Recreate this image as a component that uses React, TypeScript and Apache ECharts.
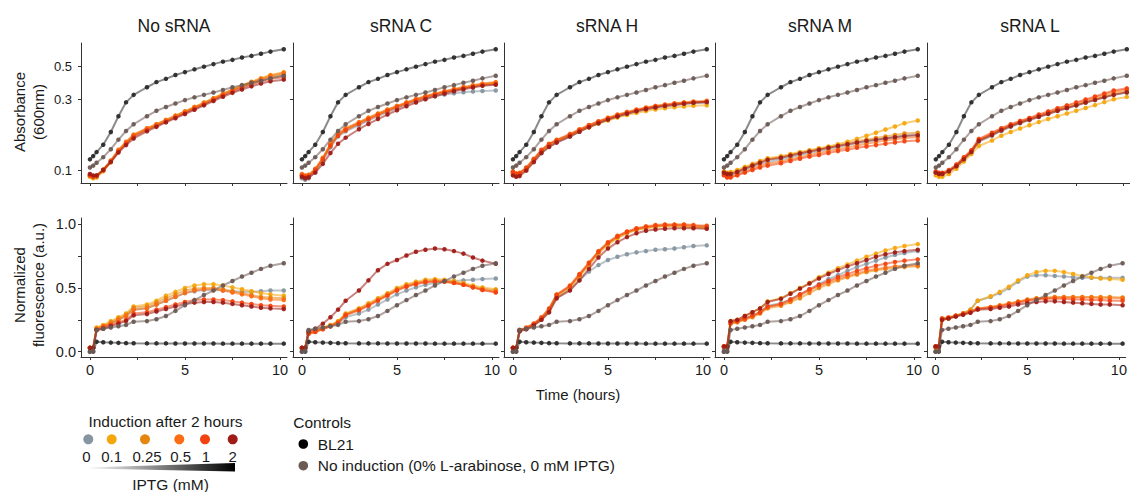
import React, { useEffect, useRef } from "react";
import * as echarts from "echarts";

// Measurement times (hours)
const TIME_H = [0, 0.17, 0.35, 0.7, 1.1, 1.5, 1.9, 2.3, 3, 3.5, 4, 4.5, 5, 5.5, 6, 6.5, 7, 7.5, 8, 8.5, 9, 9.5, 10.2];

const PANEL_TITLES = ["No sRNA", "sRNA C", "sRNA H", "sRNA M", "sRNA L"];
const IPTG_LEVELS = ["0", "0.1", "0.25", "0.5", "1", "2"];
const IPTG_COLORS = ["#8696a0", "#f6a60d", "#e6860f", "#fb6d14", "#f2420f", "#9f1c16"];
const BL21_COLOR = "#2b2b2b";
const NOIND_COLOR = "#6c5a54";

// Controls — absorbance (600 nm)
const BL21_ABS = [0.118, 0.124, 0.132, 0.148, 0.18, 0.23, 0.285, 0.32, 0.36, 0.39, 0.41, 0.435, 0.455, 0.475, 0.495, 0.515, 0.535, 0.55, 0.57, 0.585, 0.605, 0.625, 0.648];
const NOIND_ABS = [0.104, 0.107, 0.112, 0.122, 0.138, 0.16, 0.183, 0.203, 0.23, 0.25, 0.265, 0.28, 0.295, 0.308, 0.32, 0.332, 0.345, 0.36, 0.372, 0.386, 0.398, 0.413, 0.43];
// Controls — normalized fluorescence
const BL21_FLU = [0.0, 0.0, 0.078, 0.074, 0.071, 0.069, 0.067, 0.066, 0.065, 0.065, 0.065, 0.064, 0.064, 0.064, 0.064, 0.064, 0.063, 0.063, 0.063, 0.063, 0.063, 0.063, 0.063];
const NOIND_FLU = [0.0, 0.005, 0.17, 0.18, 0.19, 0.2, 0.21, 0.235, 0.24, 0.255, 0.28, 0.32, 0.365, 0.405, 0.445, 0.48, 0.52, 0.555, 0.59, 0.62, 0.65, 0.675, 0.695];

// Absorbance per panel, rows = IPTG 0, 0.1, 0.25, 0.5, 1, 2 mM
const ABS_NO_SRNA = [
  [0.092, 0.09, 0.091, 0.1, 0.115, 0.135, 0.152, 0.17, 0.188, 0.2, 0.214, 0.228, 0.244, 0.26, 0.278, 0.298, 0.32, 0.34, 0.36, 0.38, 0.398, 0.418, 0.435],
  [0.09, 0.088, 0.089, 0.098, 0.113, 0.134, 0.152, 0.172, 0.19, 0.203, 0.217, 0.232, 0.248, 0.265, 0.284, 0.304, 0.326, 0.348, 0.37, 0.392, 0.414, 0.435, 0.455],
  [0.091, 0.089, 0.09, 0.099, 0.114, 0.135, 0.153, 0.171, 0.189, 0.201, 0.215, 0.23, 0.246, 0.263, 0.281, 0.301, 0.323, 0.344, 0.365, 0.386, 0.405, 0.424, 0.44],
  [0.093, 0.091, 0.092, 0.101, 0.116, 0.137, 0.155, 0.173, 0.191, 0.203, 0.217, 0.232, 0.248, 0.265, 0.283, 0.303, 0.325, 0.347, 0.369, 0.39, 0.411, 0.431, 0.45],
  [0.092, 0.09, 0.091, 0.1, 0.114, 0.133, 0.15, 0.168, 0.186, 0.198, 0.212, 0.226, 0.241, 0.258, 0.276, 0.296, 0.317, 0.337, 0.357, 0.376, 0.394, 0.41, 0.42],
  [0.094, 0.092, 0.092, 0.1, 0.113, 0.131, 0.147, 0.163, 0.182, 0.195, 0.209, 0.223, 0.238, 0.254, 0.272, 0.291, 0.311, 0.33, 0.348, 0.365, 0.381, 0.395, 0.405],
];
const ABS_SRNA_C = [
  [0.088, 0.086, 0.088, 0.097, 0.115, 0.142, 0.168, 0.182, 0.2, 0.215, 0.23, 0.245, 0.26, 0.275, 0.29, 0.303, 0.314, 0.322, 0.328, 0.333, 0.337, 0.34, 0.342],
  [0.092, 0.09, 0.091, 0.1, 0.119, 0.147, 0.173, 0.188, 0.207, 0.222, 0.237, 0.252, 0.267, 0.282, 0.297, 0.311, 0.324, 0.336, 0.347, 0.357, 0.367, 0.377, 0.385],
  [0.093, 0.091, 0.092, 0.101, 0.12, 0.148, 0.174, 0.189, 0.208, 0.223, 0.238, 0.253, 0.268, 0.283, 0.298, 0.312, 0.325, 0.337, 0.348, 0.358, 0.368, 0.378, 0.386],
  [0.094, 0.092, 0.093, 0.102, 0.121, 0.15, 0.176, 0.191, 0.21, 0.225, 0.24, 0.255, 0.27, 0.285, 0.3, 0.314, 0.327, 0.339, 0.35, 0.361, 0.371, 0.381, 0.39],
  [0.092, 0.09, 0.091, 0.1, 0.118, 0.145, 0.17, 0.185, 0.204, 0.219, 0.234, 0.249, 0.264, 0.279, 0.294, 0.308, 0.321, 0.333, 0.344, 0.354, 0.363, 0.372, 0.378],
  [0.09, 0.088, 0.089, 0.096, 0.11, 0.13, 0.15, 0.165, 0.188, 0.204, 0.22, 0.236, 0.252, 0.268, 0.284, 0.299, 0.313, 0.326, 0.338, 0.349, 0.359, 0.368, 0.374],
];
const ABS_SRNA_H = [
  [0.095, 0.092, 0.093, 0.1, 0.114, 0.13, 0.143, 0.153, 0.168, 0.181, 0.194, 0.206, 0.218, 0.229, 0.239, 0.248, 0.256, 0.263, 0.269, 0.274, 0.278, 0.281, 0.283],
  [0.094, 0.092, 0.093, 0.101, 0.116, 0.133, 0.146, 0.156, 0.17, 0.182, 0.194, 0.205, 0.215, 0.225, 0.234, 0.242, 0.249, 0.255, 0.26, 0.264, 0.267, 0.27, 0.272],
  [0.097, 0.094, 0.095, 0.103, 0.118, 0.135, 0.148, 0.158, 0.173, 0.186, 0.199, 0.211, 0.223, 0.234, 0.244, 0.253, 0.261, 0.268, 0.274, 0.279, 0.283, 0.286, 0.288],
  [0.098, 0.095, 0.096, 0.104, 0.119, 0.137, 0.15, 0.16, 0.175, 0.188, 0.201, 0.213, 0.225, 0.236, 0.246, 0.255, 0.263, 0.27, 0.276, 0.281, 0.285, 0.289, 0.292],
  [0.097, 0.094, 0.095, 0.103, 0.118, 0.136, 0.149, 0.158, 0.173, 0.186, 0.199, 0.211, 0.222, 0.233, 0.243, 0.252, 0.26, 0.267, 0.273, 0.278, 0.282, 0.285, 0.288],
  [0.092, 0.09, 0.091, 0.099, 0.113, 0.13, 0.143, 0.153, 0.168, 0.181, 0.194, 0.206, 0.218, 0.229, 0.239, 0.248, 0.256, 0.263, 0.269, 0.274, 0.279, 0.283, 0.286],
];
const ABS_SRNA_M = [
  [0.095, 0.092, 0.092, 0.095, 0.1, 0.105, 0.11, 0.113, 0.118, 0.122, 0.126, 0.13, 0.134, 0.138, 0.142, 0.147, 0.151, 0.155, 0.159, 0.163, 0.167, 0.17, 0.173],
  [0.098, 0.096, 0.097, 0.1, 0.105, 0.11, 0.115, 0.12, 0.124, 0.128, 0.132, 0.136, 0.14, 0.144, 0.149, 0.155, 0.162, 0.17, 0.178, 0.187, 0.196, 0.206, 0.215],
  [0.097, 0.095, 0.095, 0.098, 0.103, 0.108, 0.113, 0.118, 0.122, 0.126, 0.13, 0.134, 0.138, 0.142, 0.146, 0.151, 0.156, 0.16, 0.164, 0.168, 0.172, 0.176, 0.178],
  [0.093, 0.09, 0.09, 0.093, 0.097, 0.102, 0.107, 0.11, 0.114, 0.118, 0.122, 0.126, 0.13, 0.134, 0.138, 0.142, 0.146, 0.15, 0.154, 0.158, 0.161, 0.164, 0.166],
  [0.092, 0.089, 0.089, 0.092, 0.096, 0.1, 0.104, 0.107, 0.111, 0.115, 0.119, 0.123, 0.126, 0.13, 0.134, 0.137, 0.141, 0.144, 0.147, 0.15, 0.153, 0.156, 0.158],
  [0.096, 0.094, 0.094, 0.097, 0.102, 0.107, 0.112, 0.117, 0.121, 0.125, 0.129, 0.133, 0.137, 0.141, 0.145, 0.149, 0.153, 0.157, 0.16, 0.163, 0.166, 0.169, 0.171],
];
const ABS_SRNA_L = [
  [0.096, 0.094, 0.094, 0.098, 0.106, 0.118, 0.132, 0.155, 0.17, 0.183, 0.195, 0.206, 0.216, 0.227, 0.238, 0.249, 0.26, 0.271, 0.283, 0.295, 0.308, 0.32, 0.33],
  [0.092, 0.09, 0.09, 0.094, 0.102, 0.114, 0.128, 0.145, 0.158, 0.17, 0.18, 0.19, 0.2, 0.21, 0.22, 0.23, 0.24, 0.25, 0.261, 0.273, 0.286, 0.299, 0.31],
  [0.096, 0.094, 0.094, 0.098, 0.107, 0.12, 0.134, 0.158, 0.173, 0.186, 0.198, 0.209, 0.219, 0.23, 0.241, 0.252, 0.263, 0.274, 0.286, 0.299, 0.312, 0.326, 0.338],
  [0.097, 0.095, 0.095, 0.099, 0.108, 0.121, 0.135, 0.16, 0.176, 0.189, 0.201, 0.212, 0.222, 0.233, 0.244, 0.256, 0.268, 0.28, 0.293, 0.307, 0.321, 0.335, 0.348],
  [0.098, 0.096, 0.096, 0.1, 0.109, 0.122, 0.136, 0.162, 0.178, 0.191, 0.203, 0.214, 0.224, 0.236, 0.248, 0.26, 0.272, 0.285, 0.298, 0.312, 0.327, 0.342, 0.354],
  [0.096, 0.094, 0.094, 0.098, 0.106, 0.118, 0.132, 0.157, 0.172, 0.185, 0.197, 0.208, 0.218, 0.228, 0.239, 0.25, 0.261, 0.272, 0.284, 0.296, 0.308, 0.32, 0.333],
];

// Normalized fluorescence per panel, rows = IPTG 0, 0.1, 0.25, 0.5, 1, 2 mM
const FLU_NO_SRNA = [
  [0.03, 0.03, 0.18, 0.2, 0.22, 0.25, 0.28, 0.33, 0.34, 0.37, 0.4, 0.43, 0.46, 0.475, 0.485, 0.485, 0.48, 0.475, 0.47, 0.47, 0.475, 0.48, 0.48],
  [0.03, 0.03, 0.19, 0.21, 0.24, 0.27, 0.3, 0.355, 0.37, 0.4, 0.44, 0.47, 0.5, 0.52, 0.53, 0.53, 0.52, 0.505, 0.49, 0.475, 0.46, 0.45, 0.44],
  [0.03, 0.03, 0.18, 0.2, 0.23, 0.26, 0.29, 0.345, 0.355, 0.385, 0.42, 0.45, 0.48, 0.495, 0.5, 0.5, 0.49, 0.475, 0.46, 0.445, 0.43, 0.425, 0.42],
  [0.03, 0.03, 0.18, 0.2, 0.22, 0.25, 0.28, 0.33, 0.34, 0.37, 0.4, 0.43, 0.46, 0.48, 0.49, 0.49, 0.48, 0.465, 0.45, 0.435, 0.42, 0.41, 0.405],
  [0.03, 0.03, 0.17, 0.19, 0.21, 0.23, 0.25, 0.3, 0.31, 0.33, 0.35, 0.37, 0.39, 0.405, 0.41, 0.41, 0.405, 0.395, 0.385, 0.375, 0.365, 0.36, 0.355],
  [0.03, 0.03, 0.17, 0.18, 0.2, 0.22, 0.24, 0.285, 0.295, 0.315, 0.335, 0.355, 0.375, 0.385, 0.39, 0.39, 0.385, 0.375, 0.365, 0.355, 0.345, 0.34, 0.335],
];
const FLU_SRNA_C = [
  [0.02, 0.02, 0.15, 0.16, 0.18, 0.2, 0.22, 0.27, 0.3, 0.33, 0.37, 0.41, 0.45, 0.48, 0.505, 0.525, 0.54, 0.55, 0.555, 0.56, 0.565, 0.57, 0.575],
  [0.03, 0.03, 0.15, 0.165, 0.19, 0.21, 0.24, 0.3, 0.34, 0.38, 0.42, 0.46, 0.5, 0.53, 0.55, 0.565, 0.57, 0.565, 0.555, 0.54, 0.52, 0.505, 0.49],
  [0.03, 0.03, 0.15, 0.16, 0.185, 0.205, 0.235, 0.295, 0.335, 0.37, 0.41, 0.45, 0.49, 0.52, 0.54, 0.555, 0.56, 0.555, 0.545, 0.53, 0.51, 0.495, 0.48],
  [0.03, 0.03, 0.14, 0.155, 0.18, 0.2, 0.23, 0.29, 0.33, 0.365, 0.405, 0.445, 0.485, 0.515, 0.535, 0.55, 0.555, 0.55, 0.54, 0.525, 0.505, 0.485, 0.47],
  [0.03, 0.03, 0.14, 0.155, 0.175, 0.2, 0.225, 0.285, 0.325, 0.36, 0.4, 0.44, 0.48, 0.51, 0.53, 0.545, 0.55, 0.55, 0.54, 0.525, 0.505, 0.485, 0.465],
  [0.03, 0.03, 0.16, 0.18, 0.22, 0.27, 0.33, 0.4, 0.48, 0.56, 0.64, 0.69, 0.72, 0.755, 0.785, 0.8, 0.81, 0.805, 0.79, 0.77, 0.74, 0.715, 0.69],
];
const FLU_SRNA_H = [
  [0.03, 0.03, 0.16, 0.18, 0.21, 0.25, 0.31, 0.42, 0.49, 0.56, 0.63, 0.68, 0.72, 0.745, 0.765, 0.78, 0.79, 0.8, 0.805, 0.81, 0.82, 0.83, 0.835],
  [0.03, 0.03, 0.165, 0.18, 0.21, 0.26, 0.32, 0.43, 0.5, 0.59, 0.68, 0.77, 0.84, 0.89, 0.93, 0.955, 0.97, 0.98, 0.985, 0.985, 0.98, 0.975, 0.97],
  [0.03, 0.03, 0.165, 0.185, 0.215, 0.26, 0.33, 0.44, 0.51, 0.6, 0.69, 0.78, 0.85, 0.9, 0.935, 0.96, 0.975, 0.985, 0.99, 0.99, 0.985, 0.98, 0.975],
  [0.03, 0.03, 0.17, 0.19, 0.22, 0.27, 0.34, 0.45, 0.52, 0.61, 0.7, 0.79, 0.86, 0.91, 0.945, 0.97, 0.985, 0.995, 1.0, 1.0, 1.0, 0.995, 0.99],
  [0.03, 0.03, 0.17, 0.185, 0.22, 0.265, 0.335, 0.445, 0.515, 0.605, 0.695, 0.785, 0.855, 0.905, 0.94, 0.965, 0.98, 0.99, 0.995, 0.995, 0.995, 0.99, 0.985],
  [0.03, 0.03, 0.16, 0.175, 0.205, 0.25, 0.31, 0.42, 0.48, 0.56, 0.65, 0.74, 0.81, 0.86, 0.9, 0.93, 0.95, 0.96, 0.965, 0.97, 0.97, 0.97, 0.965],
];
const FLU_SRNA_M = [
  [0.02, 0.02, 0.23, 0.24, 0.26, 0.28, 0.31, 0.36, 0.38, 0.41, 0.45, 0.49, 0.53, 0.57, 0.6, 0.635, 0.665, 0.69, 0.715, 0.74, 0.76, 0.775, 0.79],
  [0.04, 0.04, 0.24, 0.25, 0.28, 0.31, 0.34, 0.395, 0.42, 0.46, 0.5, 0.54, 0.585, 0.62, 0.655, 0.685, 0.715, 0.745, 0.77, 0.795, 0.815, 0.83, 0.845],
  [0.04, 0.04, 0.22, 0.23, 0.25, 0.27, 0.3, 0.34, 0.36, 0.39, 0.42, 0.46, 0.5, 0.53, 0.56, 0.585, 0.605, 0.625, 0.64, 0.65, 0.66, 0.665, 0.67],
  [0.04, 0.04, 0.22, 0.235, 0.255, 0.28, 0.305, 0.35, 0.37, 0.4, 0.44, 0.48, 0.515, 0.545, 0.57, 0.595, 0.615, 0.635, 0.65, 0.66, 0.67, 0.675, 0.68],
  [0.04, 0.04, 0.23, 0.24, 0.26, 0.285, 0.31, 0.355, 0.375, 0.41, 0.45, 0.49, 0.525, 0.555, 0.585, 0.61, 0.635, 0.655, 0.675, 0.69, 0.705, 0.715, 0.725],
  [0.04, 0.04, 0.24, 0.25, 0.28, 0.31, 0.34, 0.39, 0.415, 0.455, 0.495, 0.535, 0.575, 0.61, 0.64, 0.67, 0.695, 0.72, 0.745, 0.765, 0.78, 0.79, 0.8],
];
const FLU_SRNA_L = [
  [0.03, 0.03, 0.25, 0.26, 0.28, 0.3, 0.33, 0.4, 0.43, 0.46, 0.5, 0.55, 0.59, 0.6, 0.6, 0.595, 0.59, 0.585, 0.58, 0.58, 0.58, 0.58, 0.58],
  [0.03, 0.03, 0.25, 0.26, 0.28, 0.3, 0.33, 0.4, 0.435, 0.47, 0.51, 0.56, 0.6, 0.625, 0.635, 0.635, 0.625, 0.61, 0.595, 0.585, 0.575, 0.57, 0.565],
  [0.04, 0.04, 0.25, 0.26, 0.28, 0.3, 0.32, 0.34, 0.35, 0.365, 0.38, 0.395, 0.41, 0.42, 0.425, 0.43, 0.43, 0.43, 0.43, 0.43, 0.43, 0.43, 0.425],
  [0.04, 0.04, 0.26, 0.27, 0.285, 0.3, 0.315, 0.34, 0.35, 0.36, 0.375, 0.39, 0.405, 0.415, 0.42, 0.425, 0.425, 0.425, 0.425, 0.425, 0.42, 0.42, 0.42],
  [0.04, 0.04, 0.26, 0.265, 0.28, 0.295, 0.31, 0.335, 0.345, 0.355, 0.37, 0.385, 0.4, 0.41, 0.415, 0.415, 0.415, 0.41, 0.41, 0.405, 0.405, 0.4, 0.4],
  [0.04, 0.04, 0.25, 0.26, 0.275, 0.29, 0.305, 0.33, 0.335, 0.345, 0.355, 0.37, 0.38, 0.39, 0.395, 0.395, 0.39, 0.385, 0.38, 0.375, 0.37, 0.37, 0.365],
];

const ABS_PANELS = [ABS_NO_SRNA, ABS_SRNA_C, ABS_SRNA_H, ABS_SRNA_M, ABS_SRNA_L];
const FLU_PANELS = [FLU_NO_SRNA, FLU_SRNA_C, FLU_SRNA_H, FLU_SRNA_M, FLU_SRNA_L];

const ABS_TICKS = [0.1, 0.3, 0.5];
const FLU_TICKS = [0, 0.25, 0.5, 0.75, 1];
const FLU_LABELS = [0, 0.5, 1];
const TIME_TICKS = [0, 2.5, 5, 7.5, 10];
const TIME_LABELS = [0, 5, 10];

const FONT = "'Liberation Sans', Arial, sans-serif";
const TXT = "#1a1a1a";
const AXIS = "#333";

const PANEL_LEFT = [81, 293, 504, 715, 927];
const PANEL_W = 206;
const TITLE_X = [174, 401, 607, 820, 1030];

export default function App() {
  const ref = useRef<HTMLDivElement>(null);

  useEffect(() => {
    document.body.style.margin = "0";
    const chart = echarts.init(ref.current!, null, { renderer: "svg" });

    const grids: any[] = [];
    const xAxes: any[] = [];
    const yAxes: any[] = [];
    const series: any[] = [];

    const lineSeries = (idx: number, data: number[][], color: string, z: number) => ({
      type: "line",
      xAxisIndex: idx,
      yAxisIndex: idx,
      data,
      symbol: "circle",
      symbolSize: 4.5,
      showSymbol: true,
      itemStyle: { color, opacity: 0.95 },
      lineStyle: { color, width: 2, opacity: 0.55 },
      silent: true,
      z,
    });

    for (let row = 0; row < 2; row++) {
      for (let p = 0; p < 5; p++) {
        const idx = row * 5 + p;
        const isTop = row === 0;
        grids.push({
          left: PANEL_LEFT[p],
          width: PANEL_W,
          top: isTop ? 43 : 218,
          height: isTop ? 140 : 139,
        });
        xAxes.push({
          type: "value",
          gridIndex: idx,
          min: -0.47,
          max: 10.37,
          axisLine: { show: true, onZero: false, lineStyle: { color: AXIS, width: 1 } },
          axisTick: { show: true, length: 3, customValues: TIME_TICKS, lineStyle: { color: AXIS } },
          axisLabel: {
            show: !isTop,
            customValues: TIME_LABELS,
            margin: 5,
            fontSize: 14.5,
            color: TXT,
            fontFamily: FONT,
          },
          splitLine: { show: false },
        });
        yAxes.push(
          isTop
            ? {
                type: "value",
                gridIndex: idx,
                min: Math.log10(0.0818),
                max: Math.log10(0.714),
                axisLine: { show: true, onZero: false, lineStyle: { color: AXIS, width: 1 } },
                axisTick: { show: true, length: 3, customValues: ABS_TICKS.map((v) => Math.log10(v)), lineStyle: { color: AXIS } },
                axisLabel: {
                  show: p === 0,
                  customValues: ABS_TICKS.map((v) => Math.log10(v)),
                  formatter: (v: number) => Math.pow(10, v).toFixed(1),
                  margin: 9,
                  fontSize: 13,
                  color: TXT,
                  fontFamily: FONT,
                },
                splitLine: { show: false },
              }
            : {
                type: "value",
                gridIndex: idx,
                min: -0.042,
                max: 1.05,
                axisLine: { show: true, onZero: false, lineStyle: { color: AXIS, width: 1 } },
                axisTick: { show: true, length: 3, customValues: FLU_TICKS, lineStyle: { color: AXIS } },
                axisLabel: {
                  show: p === 0,
                  customValues: FLU_LABELS,
                  formatter: (v: number) => v.toFixed(1),
                  margin: 5,
                  fontSize: 14.5,
                  color: TXT,
                  fontFamily: FONT,
                },
                splitLine: { show: false },
              }
        );

        const tr = (v: number) => (isTop ? Math.log10(v) : v);
        const induced = isTop ? ABS_PANELS[p] : FLU_PANELS[p];
        induced.forEach((vals, k) => {
          series.push(lineSeries(idx, TIME_H.map((t, i) => [t, tr(vals[i])]), IPTG_COLORS[k], 2 + k));
        });
        const bl = isTop ? BL21_ABS : BL21_FLU;
        const ni = isTop ? NOIND_ABS : NOIND_FLU;
        series.push(lineSeries(idx, TIME_H.map((t, i) => [t, tr(bl[i])]), BL21_COLOR, 9));
        series.push(lineSeries(idx, TIME_H.map((t, i) => [t, tr(ni[i])]), NOIND_COLOR, 10));
      }
    }

    const text = (x: number, y: number, str: string, opts: any = {}) => ({
      type: "text",
      x,
      y,
      rotation: opts.rotation || 0,
      silent: true,
      style: {
        text: str,
        fill: TXT,
        font: `${opts.size || 15}px ${FONT}`,
        textAlign: opts.align || "center",
        textVerticalAlign: "middle",
      },
    });

    const graphics: any[] = [];
    PANEL_TITLES.forEach((t, i) => graphics.push(text(TITLE_X[i], 26, t, { size: 17.5 })));
    graphics.push(text(19, 112, "Absorbance", { rotation: Math.PI / 2, size: 15 }));
    graphics.push(text(38, 112, "(600nm)", { rotation: Math.PI / 2, size: 15 }));
    graphics.push(text(19, 285, "Normalized", { rotation: Math.PI / 2, size: 15 }));
    graphics.push(text(38, 285, "fluorescence (a.u.)", { rotation: Math.PI / 2, size: 15 }));
    graphics.push(text(578, 394, "Time (hours)", { size: 15 }));

    // IPTG legend
    graphics.push(text(165.5, 421, "Induction after 2 hours", { size: 15.5 }));
    const legX = [88.3, 111.7, 145, 179.3, 205, 232.7];
    const labX = [86.5, 111.7, 147, 180.7, 206, 232.7];
    IPTG_LEVELS.forEach((lv, i) => {
      graphics.push({ type: "circle", silent: true, shape: { cx: legX[i], cy: 439.3, r: 5 }, style: { fill: IPTG_COLORS[i] } });
      graphics.push(text(labX[i], 456.7, lv, { size: 15 }));
    });
    graphics.push({
      type: "polygon",
      silent: true,
      shape: { points: [[86, 467.6], [235, 463], [235, 471.5], [86, 468.4]] },
      style: {
        fill: new echarts.graphic.LinearGradient(0, 0, 1, 0, [
          { offset: 0, color: "#ffffff" },
          { offset: 1, color: "#000000" },
        ]),
      },
    });
    graphics.push(text(170.5, 484, "IPTG (mM)", { size: 15.5 }));

    // Controls legend
    graphics.push(text(293.3, 422, "Controls", { size: 15.5, align: "left" }));
    graphics.push({ type: "circle", silent: true, shape: { cx: 303.3, cy: 444, r: 4.8 }, style: { fill: "#000" } });
    graphics.push(text(317.7, 444, "BL21", { size: 15.5, align: "left" }));
    graphics.push({ type: "circle", silent: true, shape: { cx: 303.3, cy: 465.7, r: 4.8 }, style: { fill: NOIND_COLOR } });
    graphics.push(text(317.7, 465.7, "No induction (0% L-arabinose, 0 mM IPTG)", { size: 15.5, align: "left" }));

    chart.setOption({
      animation: false,
      backgroundColor: "#ffffff",
      textStyle: { fontFamily: FONT },
      grid: grids,
      xAxis: xAxes,
      yAxis: yAxes,
      series,
      graphic: graphics,
    });

    return () => chart.dispose();
  }, []);

  return <div ref={ref} style={{ width: 1130, height: 492 }} />;
}
